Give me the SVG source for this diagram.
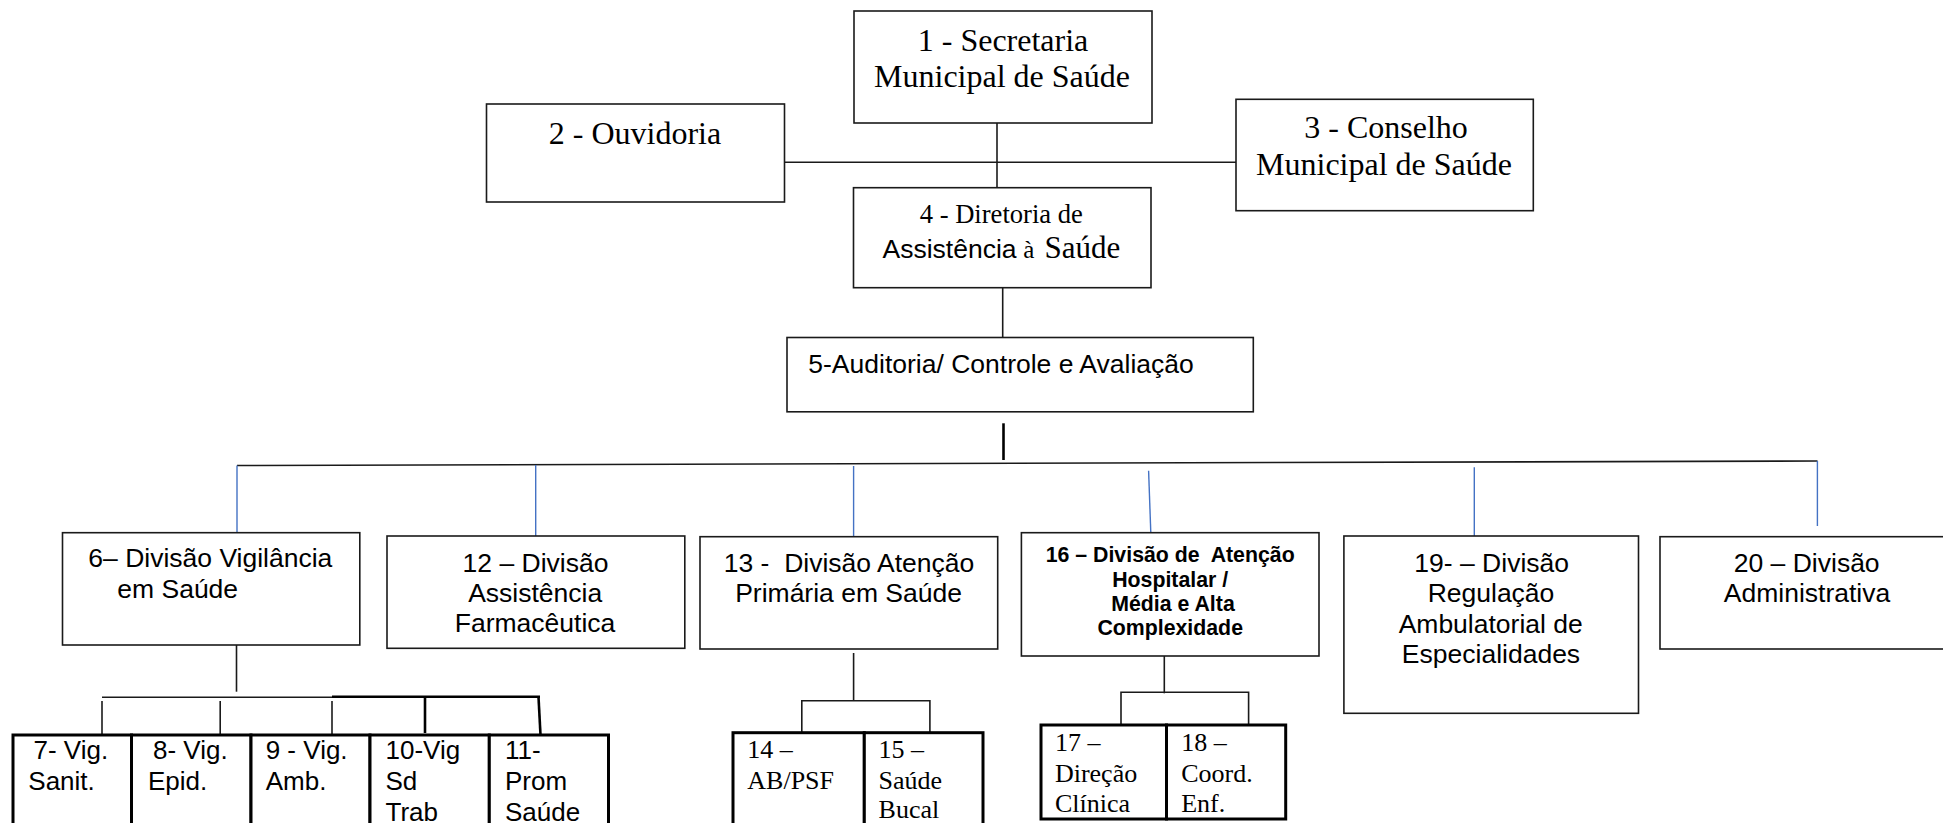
<svg xmlns="http://www.w3.org/2000/svg" width="1943" height="823" viewBox="0 0 1943 823">
<style>
  .box{fill:#fff;stroke:#1a1a1a;stroke-width:1.6}
  .tbox{fill:#fff;stroke:#000;stroke-width:3}
  .ln{stroke:#1a1a1a;stroke-width:1.6;fill:none}
  .lnb{stroke:#000;stroke-width:2.6;fill:none}
  .blue{stroke:#4472C4;stroke-width:1.4;fill:none}
  .tr{font-family:"Liberation Serif","Times New Roman",serif;fill:#000}
  .ar{font-family:"Liberation Sans",Arial,sans-serif;fill:#000}
  .t32{font-size:32px}
  .a26{font-size:26.5px}
  .b21{font-size:21.3px;font-weight:bold}
  .s26{font-size:26px}
  .mid{text-anchor:middle}
</style>
<rect width="1943" height="823" fill="#fff"/>
<g id="connectors">
  <line class="ln" x1="997" y1="123" x2="997" y2="188"/>
  <line class="ln" x1="784.5" y1="162.3" x2="1236" y2="162.3"/>
  <line class="ln" x1="1002.7" y1="287.7" x2="1002.7" y2="338"/>
  <line class="lnb" x1="1003.5" y1="423.3" x2="1003.5" y2="460"/>
  <line class="ln" x1="237" y1="465.5" x2="1817.5" y2="461"/>
  <line class="blue" x1="237" y1="465.5" x2="237" y2="532.7"/>
  <line class="blue" x1="535.7" y1="465" x2="535.7" y2="536"/>
  <line class="blue" x1="853.6" y1="466" x2="853.6" y2="536.7"/>
  <line class="blue" x1="1148.6" y1="470.7" x2="1150.8" y2="532.7"/>
  <line class="blue" x1="1474.3" y1="467.3" x2="1474.3" y2="536"/>
  <line class="blue" x1="1817.4" y1="461" x2="1817.4" y2="526"/>
  <line class="ln" x1="236.5" y1="645" x2="236.5" y2="691.7"/>
  <line class="ln" x1="102" y1="697.3" x2="332" y2="697.3"/>
  <line class="lnb" x1="332" y1="696.7" x2="540" y2="696.7"/>
  <line class="ln" x1="102" y1="701" x2="102" y2="735"/>
  <line class="ln" x1="220.2" y1="701" x2="220.2" y2="735"/>
  <line class="ln" x1="332" y1="701" x2="332" y2="735"/>
  <line class="lnb" x1="425" y1="697" x2="425" y2="733"/>
  <line class="lnb" x1="538.5" y1="697" x2="540.5" y2="735"/>
  <line class="ln" x1="853.6" y1="653" x2="853.6" y2="700.7"/>
  <polyline class="ln" points="801.8,733 801.8,700.7 929.9,700.7 929.9,732"/>
  <line class="ln" x1="1164.3" y1="645" x2="1164.3" y2="693.3"/>
  <polyline class="ln" points="1121,726 1121,692.3 1248.6,692.3 1248.6,724"/>
</g>
<g id="n1">
  <rect class="box" x="854" y="11" width="298" height="112"/>
  <text class="tr t32 mid" x="1003" y="50.5">1 - Secretaria</text>
  <text class="tr t32 mid" x="1002" y="87.3">Municipal de Saúde</text>
</g>
<g id="n2">
  <rect class="box" x="486.5" y="104" width="298" height="98"/>
  <text class="tr t32 mid" x="635" y="144">2 - Ouvidoria</text>
</g>
<g id="n3">
  <rect class="box" x="1236" y="99.3" width="297.3" height="111.4"/>
  <text class="tr t32 mid" x="1386" y="138.3">3 - Conselho</text>
  <text class="tr t32 mid" x="1384" y="175">Municipal de Saúde</text>
</g>
<g id="n4">
  <rect class="box" x="853.5" y="187.7" width="297.5" height="100"/>
  <text class="tr mid" style="font-size:26.6px" x="1001.3" y="222.7">4 - Diretoria de</text>
  <text y="258.3"><tspan class="ar" style="font-size:26.5px" x="882.5">Assistência</tspan><tspan class="tr" style="font-size:25px" x="1023.3">à</tspan><tspan class="tr" style="font-size:31px" x="1044.5">Saúde</tspan></text>
</g>
<g id="n5">
  <rect class="box" x="787" y="337.5" width="466.3" height="74.3"/>
  <text class="ar a26" x="808.3" y="373.3">5-Auditoria/ Controle e Avaliação</text>
</g>
<g id="n6">
  <rect class="box" x="62.5" y="532.7" width="297.3" height="112.3"/>
  <text class="ar a26" x="88.3" y="567">6– Divisão Vigilância</text>
  <text class="ar a26" x="117.3" y="598.3">em Saúde</text>
</g>
<g id="n12">
  <rect class="box" x="387" y="536" width="297.8" height="112.3"/>
  <text class="ar a26 mid" x="535.5" y="572">12 – Divisão</text>
  <text class="ar a26 mid" x="535.2" y="601.7">Assistência</text>
  <text class="ar a26 mid" x="535" y="631.7">Farmacêutica</text>
</g>
<g id="n13">
  <rect class="box" x="700" y="536.7" width="297.7" height="112.3"/>
  <text class="ar a26 mid" x="849" y="571.7" xml:space="preserve">13 -  Divisão Atenção</text>
  <text class="ar a26 mid" x="848.6" y="601.7">Primária em Saúde</text>
</g>
<g id="n16">
  <rect class="box" x="1021.4" y="532.7" width="297.6" height="123.3"/>
  <text class="ar b21 mid" x="1170.2" y="562" xml:space="preserve">16 – Divisão de  Atenção</text>
  <text class="ar b21 mid" x="1170.2" y="586.7">Hospitalar /</text>
  <text class="ar b21 mid" x="1173" y="610.7">Média e Alta</text>
  <text class="ar b21 mid" x="1170.2" y="635">Complexidade</text>
</g>
<g id="n19">
  <rect class="box" x="1343.9" y="536" width="294.6" height="177.3"/>
  <text class="ar a26 mid" x="1491.7" y="571.7">19- – Divisão</text>
  <text class="ar a26 mid" x="1491" y="601.7">Regulação</text>
  <text class="ar a26 mid" x="1490.7" y="632.7">Ambulatorial de</text>
  <text class="ar a26 mid" x="1491" y="662.5">Especialidades</text>
</g>
<g id="n20">
  <rect class="box" x="1660" y="536.7" width="300" height="112.3"/>
  <text class="ar a26 mid" x="1806.7" y="571.7">20 – Divisão</text>
  <text class="ar a26 mid" x="1807" y="601.7">Administrativa</text>
</g>
<g id="n7">
  <rect class="tbox" x="13" y="735" width="118.5" height="100"/>
  <text class="ar s26" x="33.5" y="758.5">7- Vig.</text>
  <text class="ar s26" x="28.3" y="790">Sanit.</text>
</g>
<g id="n8">
  <rect class="tbox" x="131.5" y="735" width="119.5" height="100"/>
  <text class="ar s26" x="153" y="758.5">8- Vig.</text>
  <text class="ar s26" x="148" y="790">Epid.</text>
</g>
<g id="n9">
  <rect class="tbox" x="251" y="735" width="119" height="100"/>
  <text class="ar s26" x="265.7" y="758.5">9 - Vig.</text>
  <text class="ar s26" x="265.7" y="790">Amb.</text>
</g>
<g id="n10">
  <rect class="tbox" x="370" y="735" width="119.3" height="100"/>
  <text class="ar s26" x="385.5" y="758.5">10-Vig</text>
  <text class="ar s26" x="385.5" y="790">Sd</text>
  <text class="ar s26" x="385.5" y="820.5">Trab</text>
</g>
<g id="n11">
  <rect class="tbox" x="489.3" y="735" width="119.2" height="100"/>
  <text class="ar s26" x="505" y="758.5">11-</text>
  <text class="ar s26" x="505" y="790">Prom</text>
  <text class="ar s26" x="505" y="820.5">Saúde</text>
</g>
<g id="n14">
  <rect class="tbox" x="733" y="732.7" width="131.3" height="100"/>
  <text class="tr s26" x="747.3" y="758.3">14 –</text>
  <text class="tr s26" x="747.3" y="789.3">AB/PSF</text>
</g>
<g id="n15">
  <rect class="tbox" x="864.3" y="732.7" width="118.7" height="100"/>
  <text class="tr s26" x="878.6" y="758.3">15 –</text>
  <text class="tr s26" x="878.6" y="789.3">Saúde</text>
  <text class="tr s26" x="878.6" y="818.3">Bucal</text>
</g>
<g id="n17">
  <rect class="tbox" x="1041" y="725" width="125.5" height="94"/>
  <text class="tr s26" x="1054.9" y="750.7">17 –</text>
  <text class="tr s26" x="1054.9" y="781.7">Direção</text>
  <text class="tr s26" x="1054.9" y="811.7">Clínica</text>
</g>
<g id="n18">
  <rect class="tbox" x="1166.5" y="725" width="119.2" height="94"/>
  <text class="tr s26" x="1181.2" y="750.7">18 –</text>
  <text class="tr s26" x="1181.2" y="781.7">Coord.</text>
  <text class="tr s26" x="1181.2" y="811.7">Enf.</text>
</g>
</svg>
